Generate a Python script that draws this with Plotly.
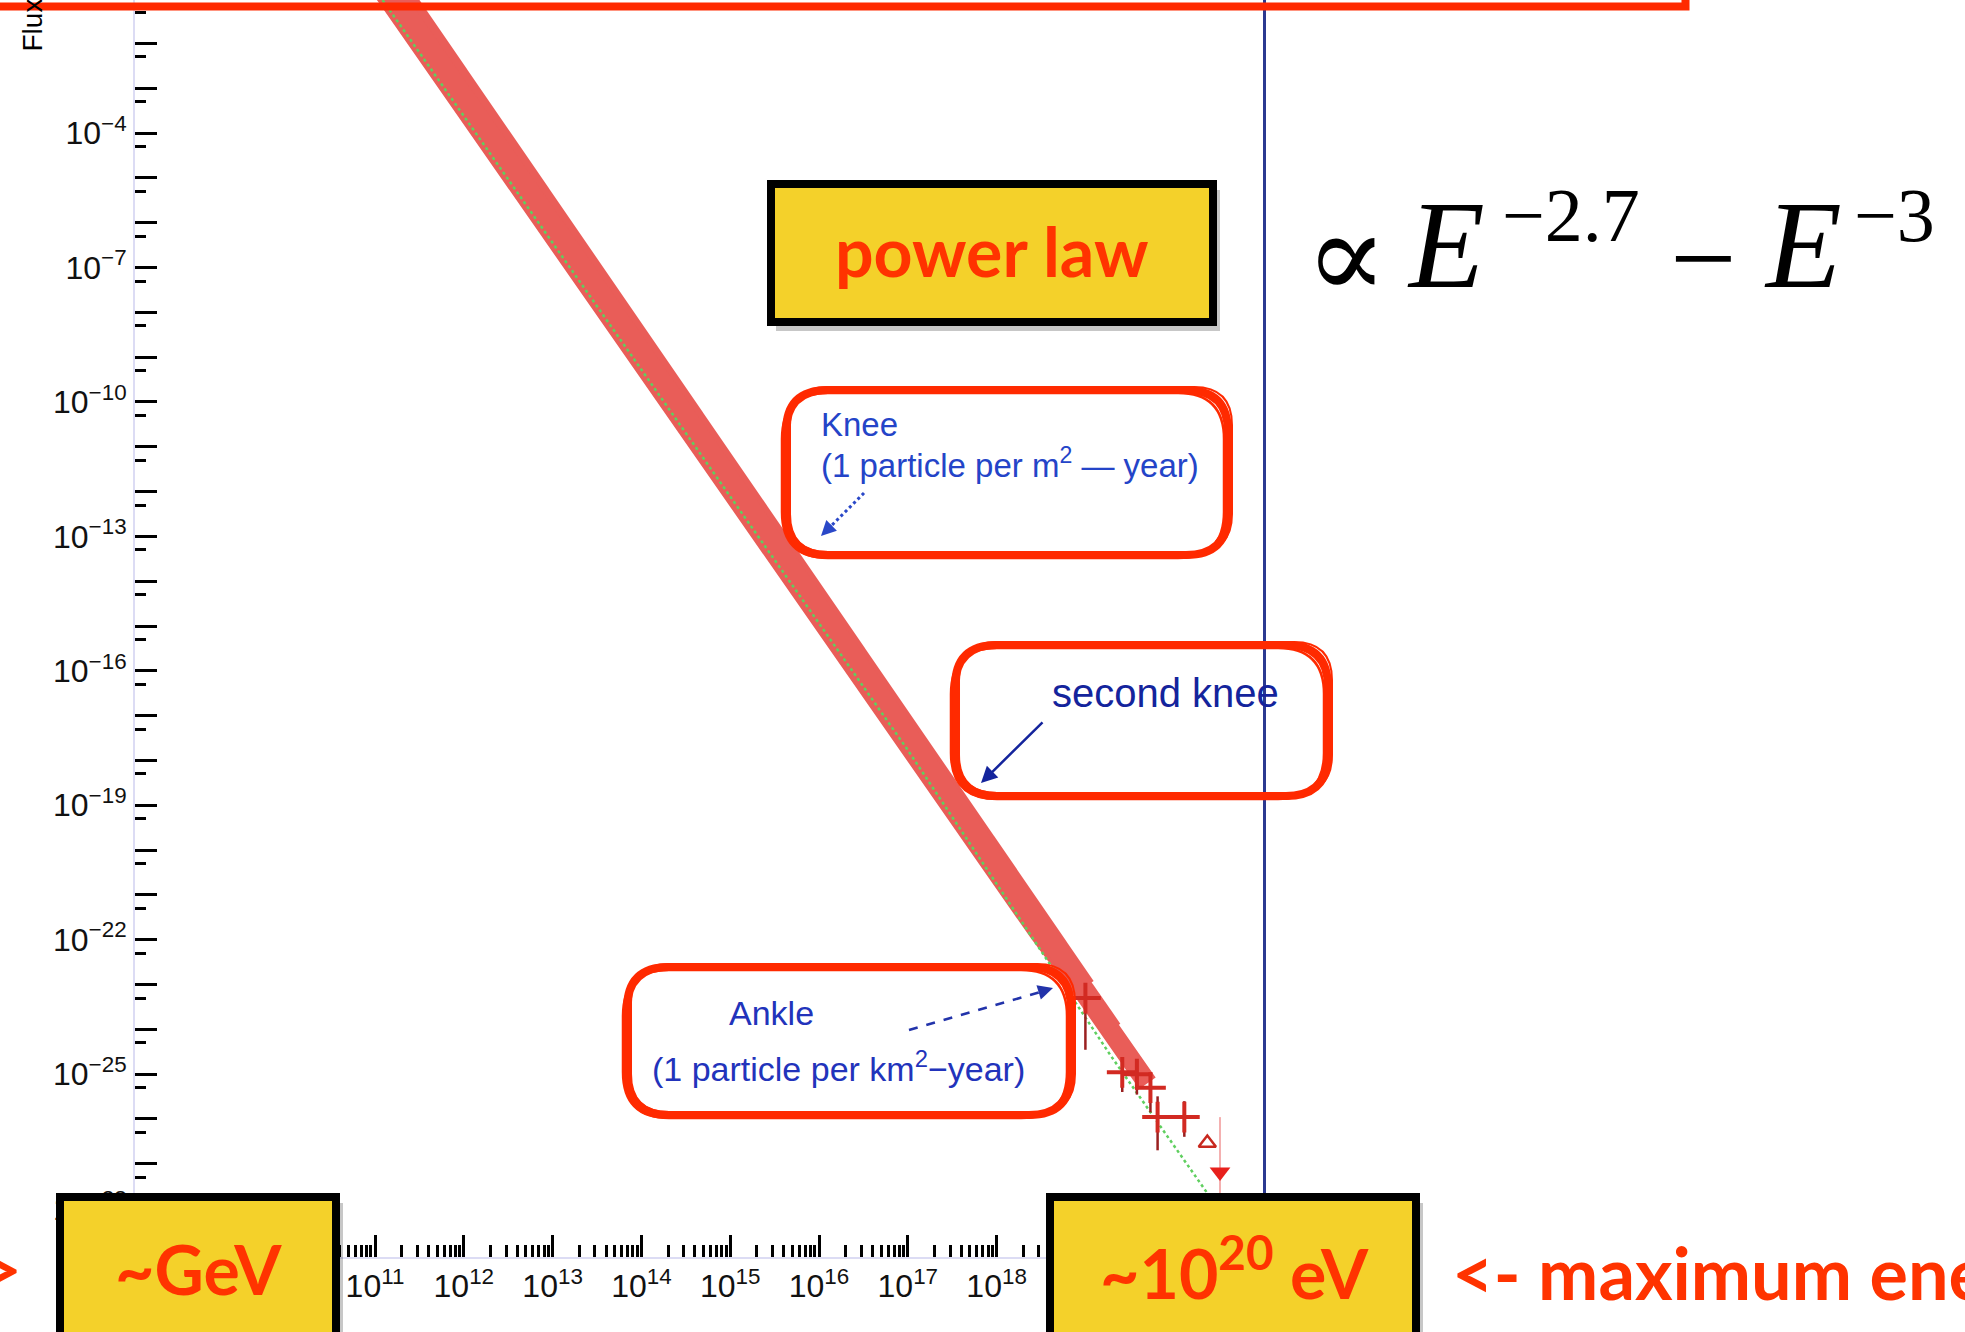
import plotly.graph_objects as go

# ---------------- data ----------------
# cosmic-ray flux band (energy in eV, flux in (m^2 sr s GeV)^-1): upper edge, centre and lower edge data sets
E_upper = [1e11, 3e11, 1e12, 3e12, 1e13, 3e13, 1e14, 3e14, 1e15, 3e15, 1e16, 3e16, 1e17, 3e17, 1e18, 3e18,
           1e19]
F_upper = [1.05e0, 4.5e-2, 1.42e-3, 6.05e-5, 1.91e-6, 8.4e-8, 2.7e-9, 9.4e-11, 3.0e-12, 1.32e-13,
           4.3e-15, 1.87e-16, 5.9e-18, 2.5e-19, 8.2e-21, 3.25e-22, 9.0e-24]
E_center = [1e11, 3e11, 1e12, 3e12, 1e13, 3e13, 1e14, 3e14, 1e15, 3e15, 1e16, 3e16, 1e17, 3e17, 1e18,
            3e18, 1e19, 2e19]
F_center = [4.7e-1, 2.1e-2, 6.9e-4, 3.1e-5, 1.03e-6, 4.6e-8, 1.52e-9, 6.8e-11, 2.25e-12, 1.0e-13,
            3.3e-15, 1.49e-16, 4.9e-18, 1.75e-19, 5.8e-21, 2.6e-22, 8.0e-24, 1.0e-24]
E_lower = [1e11, 3e11, 1e12, 3e12, 1e13, 3e13, 1e14, 3e14, 1e15, 3e15, 1e16, 3e16, 1e17, 3e17, 1e18,
           3e18, 1e19, 3e19, 5e19]
F_lower = [2.64e-1, 1.15e-2, 3.7e-4, 1.63e-5, 5.15e-7, 2.25e-8, 7.3e-10, 3.1e-11, 1.0e-12, 4.0e-14,
           1.32e-15, 5.9e-17, 1.96e-18, 8.7e-20, 2.9e-21, 1.45e-22, 6.05e-24, 2.7e-25, 6.3e-26]

# highest-energy points with error bars
E_high = [1.0e19, 2.6e19, 3.8e19, 5.4e19, 6.5e19, 1.3e20]
F_high = [5.0e-24, 1.1e-25, 1.0e-25, 5.0e-26, 1.1e-26, 1.1e-26]
F_high_up = [7.9e-24, 2.2e-25, 2.0e-25, 1.0e-25, 3.2e-26, 2.5e-26]
F_high_lo = [3.5e-25, 4.0e-26, 3.5e-26, 1.4e-26, 2.0e-27, 4.0e-27]

E_tri_open = [2.36e20]
F_tri_open = [2.9e-27]
E_tri_down = [3.28e20]
F_tri_down = [6.6e-28]
F_tri_down_up = [1.1e-26]
F_tri_down_lo = [2.2e-28]

# green dotted fit
E_fit = [1e10, 1e15, 1e17, 1.9e19, 4e20]
F_fit = [1.1e2, 7.9e-13, 1.7e-18, 2.7e-25, 5e-29]

# axes
x_decades = list(range(8, 22))
y_decades = list(range(-29, 0))
x_tick_labels = ["10<sup>%d</sup>" % k for k in x_decades]
y_tick_labels = [("10<sup>\u2212%d</sup>" % (-k)) if (k + 1) % 3 == 0 else "" for k in y_decades]

# ---------------- layout geometry ----------------
FIG_W, FIG_H = 1965, 1332
L, R, T, B = 135, 702, 0, 75
PW = FIG_W - L - R
PH = FIG_H - T - B


def px(X):
    return (X - L) / PW


def py(Y):
    return (T + PH - Y) / PH


X_RANGE = [8.297, 21.0]
Y_RANGE = [-29.08, -1.03]

BAND = "#E95D58"
RED = "#FF2A00"
YELLOW = "#F4D12A"
TEXTRED = "#FF3300"

fig = go.Figure()

for E, F in [(E_upper, F_upper), (E_lower, F_lower), (E_center, F_center)]:
    fig.add_trace(go.Scatter(x=E, y=F, mode="lines", line=dict(color=BAND, width=20),
                             hoverinfo="skip", showlegend=False))

fig.add_trace(go.Scatter(x=E_fit, y=F_fit, mode="lines",
                         line=dict(color="#5fcf5f", width=2.5, dash="dot"),
                         hoverinfo="skip", showlegend=False))

err_plus = [u - f for u, f in zip(F_high_up, F_high)]
err_minus = [f - l for f, l in zip(F_high, F_high_lo)]
fig.add_trace(go.Scatter(x=E_high, y=F_high, mode="markers", yaxis="y2",
                         marker=dict(symbol="cross-thin-open", size=22, color="#d22a22",
                                     line=dict(color="#d22a22", width=4)),
                         error_y=dict(type="data", array=err_plus, arrayminus=err_minus,
                                      color="#9a2020", thickness=2.5, width=0),
                         hoverinfo="skip", showlegend=False))
fig.add_trace(go.Scatter(x=E_tri_open, y=F_tri_open, mode="markers", yaxis="y2",
                         marker=dict(symbol="triangle-up-open", size=15, color="#c8281e",
                                     line=dict(color="#c8281e", width=2.5)),
                         hoverinfo="skip", showlegend=False))
fig.add_trace(go.Scatter(x=E_tri_down, y=F_tri_down, mode="markers", yaxis="y2",
                         marker=dict(symbol="triangle-down", size=18, color="#e8201c"),
                         error_y=dict(type="data",
                                      array=[u - f for u, f in zip(F_tri_down_up, F_tri_down)],
                                      arrayminus=[f - l for f, l in zip(F_tri_down, F_tri_down_lo)],
                                      color="#f4b0b0", thickness=2, width=0),
                         hoverinfo="skip", showlegend=False))

AXLINE = "#dcdcf4"
TICKFONT = dict(family="Liberation Sans, Arial, sans-serif", size=32, color="#111111")

fig.update_layout(
    width=FIG_W, height=FIG_H, autosize=False,
    margin=dict(l=L, r=R, t=T, b=B, pad=0),
    paper_bgcolor="white", plot_bgcolor="white", showlegend=False,
    xaxis=dict(type="log", range=X_RANGE, showgrid=False, zeroline=False,
               showline=True, linecolor=AXLINE, linewidth=2,
               tickmode="array", tickvals=[10.0 ** k for k in x_decades], ticktext=x_tick_labels,
               ticks="inside", ticklen=22, tickwidth=3, tickcolor="black",
               tickfont=TICKFONT,
               minor=dict(tickmode="array",
                          tickvals=[m * 10.0 ** k for k in range(8, 21) for m in range(2, 10)],
                          ticks="inside", ticklen=12, tickwidth=2.5, tickcolor="black",
                          showgrid=False)),
    yaxis=dict(type="log", range=Y_RANGE, showgrid=False, zeroline=False,
               showline=True, linecolor=AXLINE, linewidth=2,
               tickmode="array", tickvals=[10.0 ** k for k in y_decades], ticktext=y_tick_labels,
               ticks="inside", ticklen=22, tickwidth=3, tickcolor="black",
               tickfont=TICKFONT,
               minor=dict(tickmode="array", tickvals=[5 * 10.0 ** k for k in range(-30, 0)],
                          ticks="inside", ticklen=11, tickwidth=3, tickcolor="black",
                          showgrid=False)),
    yaxis2=dict(type="log", range=Y_RANGE, overlaying="y", side="right",
                showline=True, linecolor="#2b3990", linewidth=2.5,
                showticklabels=False, ticks="", showgrid=False, zeroline=False),
)

shapes = []
# title box (cut off at the top)
shapes.append(dict(type="rect", xref="paper", yref="paper", x0=px(-30), x1=px(1686),
                   y0=py(7), y1=py(-300), line=dict(color=RED, width=7), layer="above"))
shapes.append(dict(type="rect", xref="paper", yref="paper", x0=px(-30), x1=px(1683),
                   y0=py(4), y1=py(-300), line=dict(color=RED, width=3), layer="above"))


def yellow_box(x0, y0, x1, y1):
    shapes.append(dict(type="rect", xref="paper", yref="paper",
                       x0=px(x0 + 5), x1=px(x1 + 7), y0=py(y1 + 9), y1=py(y0 + 6),
                       fillcolor="rgba(0,0,0,0.22)", line=dict(width=0), layer="above"))
    shapes.append(dict(type="rect", xref="paper", yref="paper",
                       x0=px(x0), x1=px(x1), y0=py(y1), y1=py(y0),
                       fillcolor=YELLOW, line=dict(color="black", width=8), layer="above"))


def rounded_path(x0, y0, x1, y1, r, dx=0, dy=0):
    x0, x1, y0, y1 = x0 + dx, x1 + dx, y0 + dy, y1 + dy
    P = lambda X, Y: "%.5f,%.5f" % (px(X), py(Y))
    return ("M" + P(x0 + r, y0) + " L" + P(x1 - r, y0) + " Q" + P(x1, y0) + " " + P(x1, y0 + r)
            + " L" + P(x1, y1 - r) + " Q" + P(x1, y1) + " " + P(x1 - r, y1)
            + " L" + P(x0 + r, y1) + " Q" + P(x0, y1) + " " + P(x0, y1 - r)
            + " L" + P(x0, y0 + r) + " Q" + P(x0, y0) + " " + P(x0 + r, y0) + " Z")


def red_box(x0, y0, x1, y1):
    shapes.append(dict(type="path", xref="paper", yref="paper",
                       path=rounded_path(x0, y0, x1, y1, 42), line=dict(color=RED, width=8),
                       layer="above"))
    shapes.append(dict(type="path", xref="paper", yref="paper",
                       path=rounded_path(x0, y0, x1, y1, 46, dx=-4, dy=3), line=dict(color=RED, width=2.5),
                       layer="above"))
    shapes.append(dict(type="path", xref="paper", yref="paper",
                       path=rounded_path(x0, y0, x1, y1, 38, dx=4, dy=-3), line=dict(color=RED, width=2),
                       layer="above"))


red_box(786, 390, 1228, 555)
red_box(955, 645, 1328, 796)
red_box(627, 967, 1071, 1115)

yellow_box(771, 184, 1213, 322)
yellow_box(60, 1197, 336, 1360)
yellow_box(1050, 1197, 1416, 1360)

# dotted / dashed arrow shafts
shapes.append(dict(type="line", xref="paper", yref="paper", x0=px(864), y0=py(493),
                   x1=px(826), y1=py(531), line=dict(color="#2a48c8", width=3, dash="dot"),
                   layer="above"))
shapes.append(dict(type="line", xref="paper", yref="paper", x0=px(909), y0=py(1030),
                   x1=px(1044), y1=py(991), line=dict(color="#2233aa", width=2.5, dash="dash"),
                   layer="above"))

fig.update_layout(shapes=shapes)

ann = []


def text(X, Y, s, size, color, family, xanchor="center", yanchor="middle", angle=0, weight="normal"):
    ann.append(dict(xref="paper", yref="paper", x=px(X), y=py(Y), text=s, showarrow=False,
                    xanchor=xanchor, yanchor=yanchor, textangle=angle,
                    font=dict(size=size, color=color, family=family, weight=weight)))


COMIC = "Lato, Noto Sans, sans-serif"
text(992, 250, "power law", 68, TEXTRED, COMIC, weight="bold")
text(198, 1268, "~GeV", 68, TEXTRED, COMIC, weight="bold")
text(1234, 1268, "~10<sup>20</sup> eV", 68, TEXTRED, COMIC, weight="bold")
text(1450, 1272, "&lt;- maximum energy", 72, TEXTRED, COMIC, xanchor="left", weight="bold")
text(24, 1268, "--&gt;", 66, TEXTRED, COMIC, xanchor="right", weight="bold")

BLUEFONT = "Liberation Sans, Arial, sans-serif"
text(819, 424, "Knee", 33, "#2444c8", BLUEFONT, xanchor="left")
text(819, 463, "(1 particle per m<sup>2</sup> \u2014 year)", 33, "#2444c8", BLUEFONT, xanchor="left")
text(1165, 693, "second knee", 40, "#14249c", BLUEFONT)
text(771, 1013, "Ankle", 34, "#2233bb", BLUEFONT)
text(838, 1066, "(1 particle per km<sup>2</sup>\u2212year)", 34, "#2233bb", BLUEFONT)

# formula
SERIF = "Liberation Serif, DejaVu Serif, serif"
text(1303, 256, "\u221d", 122, "black", "DejaVu Serif, serif", xanchor="left")
text(1405, 246, "<i>E</i>", 124, "black", SERIF, xanchor="left")
text(1500, 215, "\u22122.7", 76, "black", SERIF, xanchor="left")
text(1668, 258, "\u2212", 118, "black", SERIF, xanchor="left")
text(1762, 246, "<i>E</i>", 124, "black", SERIF, xanchor="left")
text(1852, 215, "\u22123", 76, "black", SERIF, xanchor="left")

# y-axis title (mostly above the page)
text(30, 54, "Flux (m<sup>2</sup> sr s GeV)<sup>\u22121</sup>", 28, "black", BLUEFONT,
     yanchor="bottom", angle=-90)

# arrow heads
ann.append(dict(xref="paper", yref="paper", x=px(981), y=py(783), ax=63, ay=-62, text="",
                showarrow=True, arrowhead=2, arrowsize=1.3, arrowwidth=2.5, arrowcolor="#14249c"))
ann.append(dict(xref="paper", yref="paper", x=px(821), y=py(536), ax=12, ay=-12, text="",
                showarrow=True, arrowhead=2, arrowsize=1.2, arrowwidth=2.5, arrowcolor="#2a48c8"))
ann.append(dict(xref="paper", yref="paper", x=px(1053), y=py(988), ax=-13, ay=4, text="",
                showarrow=True, arrowhead=2, arrowsize=1.2, arrowwidth=2.5, arrowcolor="#2233aa"))

fig.update_layout(annotations=ann)

fig.write_html("out.html")
